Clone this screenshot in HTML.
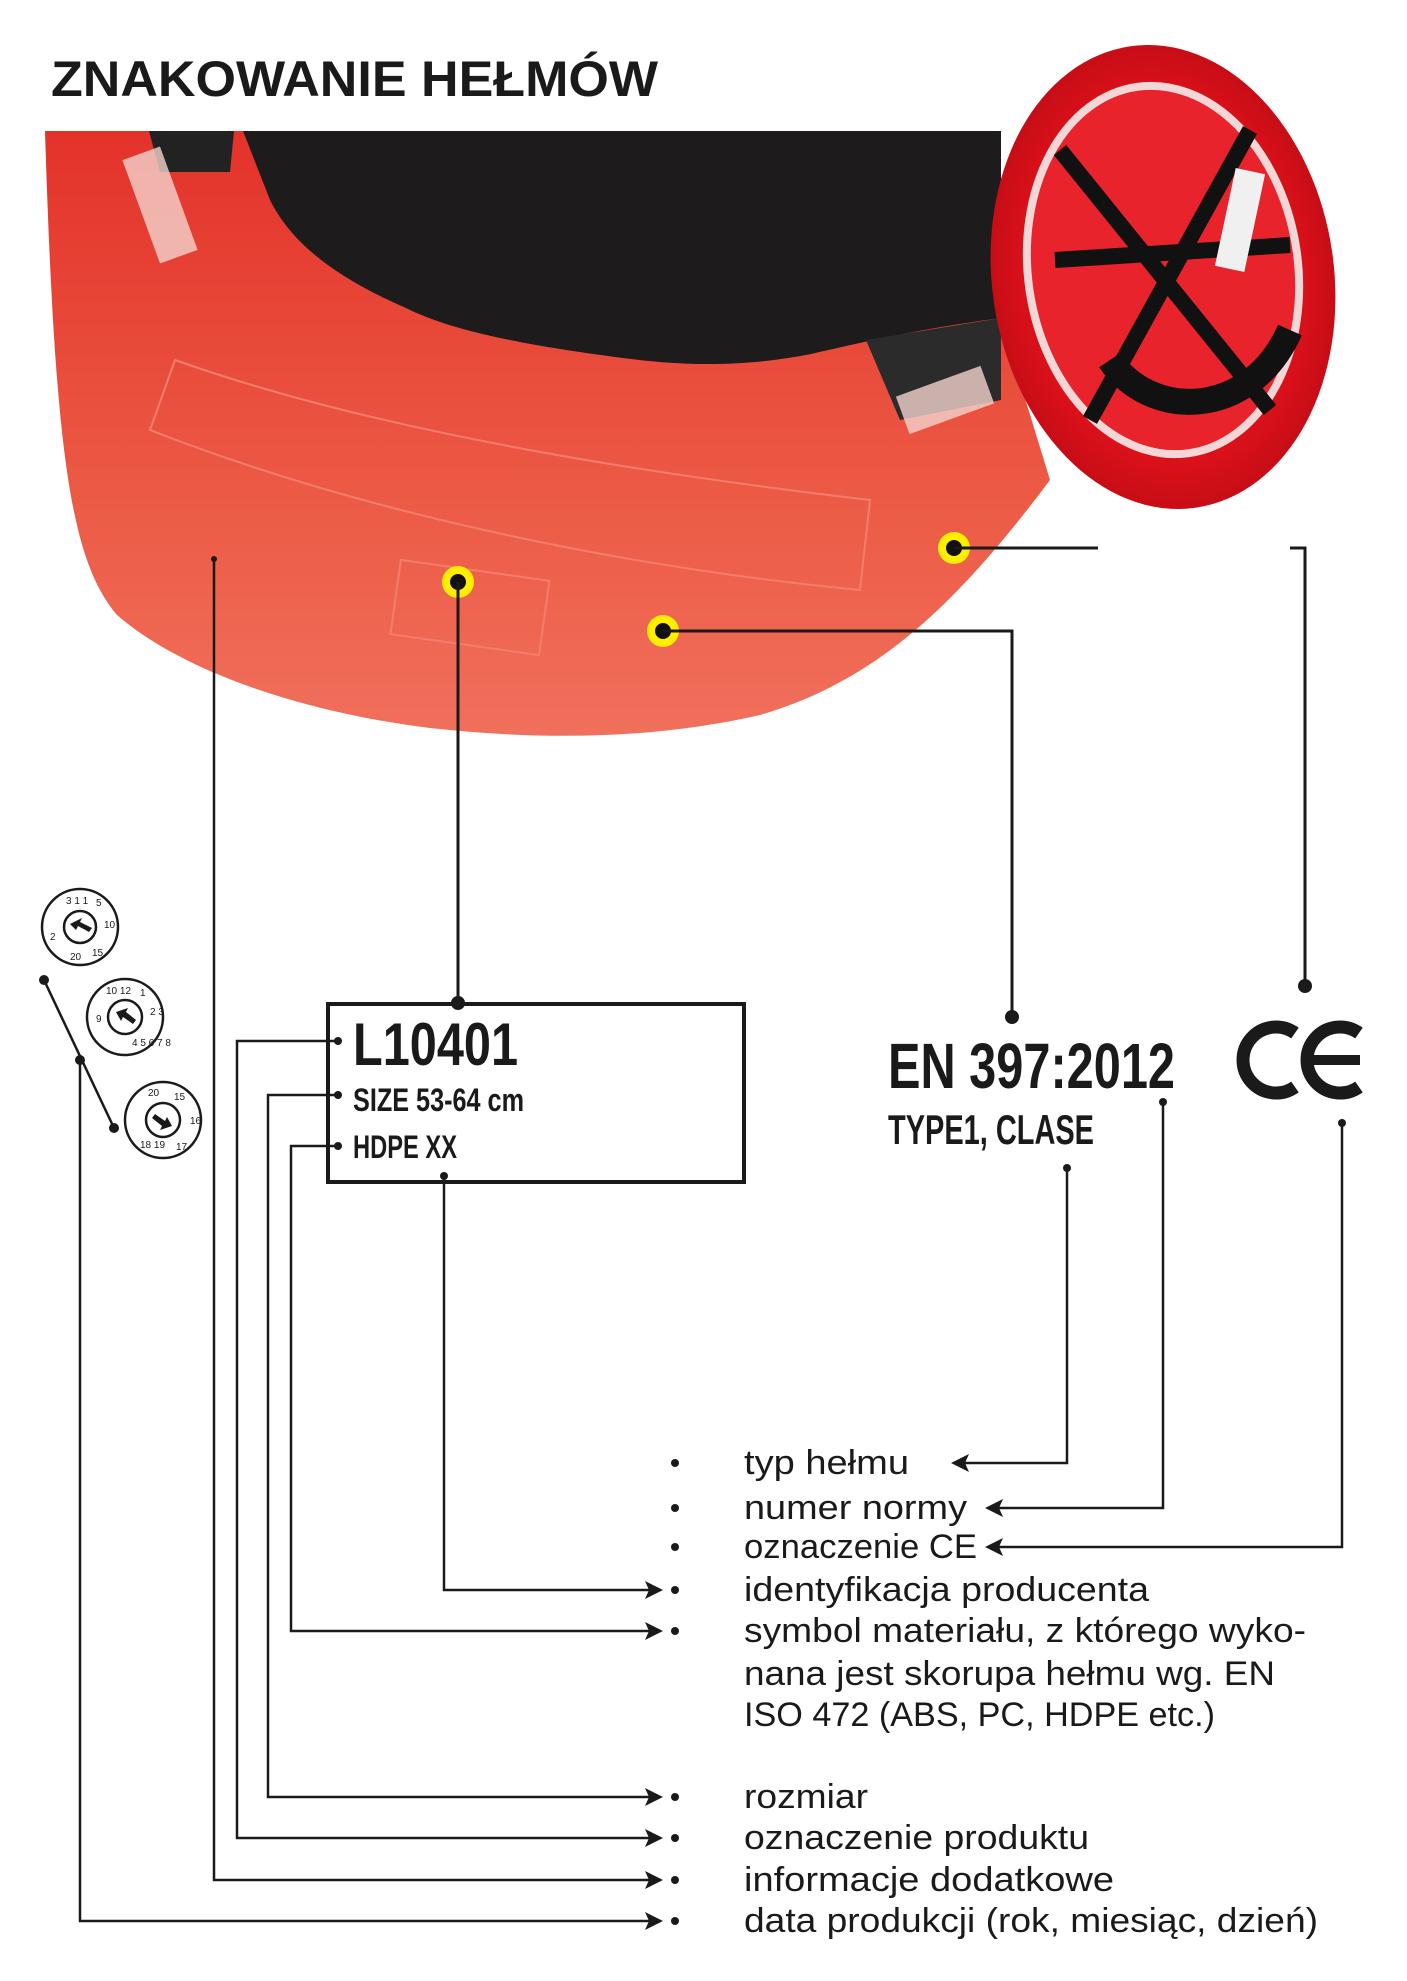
<!DOCTYPE html>
<html><head><meta charset="utf-8"><style>
html,body{margin:0;padding:0;background:#fff}
svg{display:block}
</style></head><body>
<svg width="1407" height="1981" viewBox="0 0 1407 1981" xmlns="http://www.w3.org/2000/svg" font-family="Liberation Sans, sans-serif">
<defs>
<linearGradient id="rg" x1="0" y1="0" x2="0" y2="1">
<stop offset="0" stop-color="#e3322a"/><stop offset="0.6" stop-color="#ec5a45"/><stop offset="1" stop-color="#f0705c"/>
</linearGradient>
<radialGradient id="hg" cx="0.5" cy="0.5" r="0.5">
<stop offset="0.7" stop-color="#e4121c"/><stop offset="1" stop-color="#c70d16"/>
</radialGradient>
</defs>
<text x="51" y="96" font-size="50" font-weight="bold" fill="#1a1a1a" textLength="607" lengthAdjust="spacingAndGlyphs">ZNAKOWANIE HEŁMÓW</text>

<!-- main helmet photo -->
<path d="M45,131 L1001,131 L1001,320 L1050,480 C960,600 880,680 760,715 C650,740 540,740 430,728 C300,712 180,670 117,615 C70,560 55,450 45,131 Z" fill="url(#rg)"/>
<path d="M243,131 L1001,131 L1001,318 C950,325 900,333 811,354 C740,368 680,365 631,359 C520,345 450,330 406,308 C330,275 290,240 270,200 Z" fill="#1d1b1b"/>
<path d="M866,340 L1001,318 L1001,400 L900,420 Z" fill="#2b2b2b"/>
<path d="M149,131 L234,131 L230,172 L160,172 Z" fill="#222"/>
<rect x="140" y="150" width="40" height="110" fill="#f3d3cc" opacity="0.8" transform="rotate(-20 160 205)"/>
<rect x="900" y="380" width="90" height="40" fill="#f3d3cc" opacity="0.8" transform="rotate(-20 945 400)"/>
<path d="M175,360 C400,440 700,480 870,500 L860,590 C650,570 380,520 150,430 Z" fill="none" stroke="#f27d6b" stroke-width="2"/>
<rect x="395" y="570" width="150" height="75" fill="none" stroke="#f27d6b" stroke-width="2" transform="rotate(8 470 607)"/>

<!-- small helmet -->
<ellipse cx="1163" cy="277" rx="171" ry="233" fill="url(#hg)" transform="rotate(-8 1163 277)"/>
<ellipse cx="1163" cy="270" rx="135" ry="185" fill="#e8232b" stroke="#f3d7d7" stroke-width="8" transform="rotate(-8 1163 270)"/>
<path d="M1060,150 L1270,410 M1250,130 L1090,420 M1055,260 L1290,245" stroke="#111" stroke-width="16" fill="none"/>
<path d="M1110,360 C1150,420 1250,420 1290,330" stroke="#111" stroke-width="26" fill="none"/>
<rect x="1225" y="170" width="30" height="100" fill="#f0f0f0" transform="rotate(12 1240 220)"/>

<!-- yellow points -->
<g fill="#ffee00"><circle cx="458" cy="582" r="16"/><circle cx="663" cy="631" r="16"/><circle cx="954" cy="548" r="16"/></g>
<g fill="#111"><circle cx="458" cy="582" r="8"/><circle cx="663" cy="631" r="8"/><circle cx="954" cy="548" r="8"/></g>

<g stroke="#1a1a1a" stroke-width="3" fill="none">
<path d="M458,582 L458,1003"/>
<path d="M663,631 L1012,631 L1012,1017"/>
<path d="M954,548 L1098,548"/>
<path d="M1290,548 L1305,548 L1305,986"/>
</g>
<g fill="#1a1a1a">
<circle cx="458" cy="1003" r="7"/><circle cx="1012" cy="1017" r="7"/><circle cx="1305" cy="986" r="7"/>
<circle cx="214" cy="559" r="3"/>
</g>

<!-- box -->
<rect x="328" y="1004" width="416" height="178" fill="none" stroke="#1a1a1a" stroke-width="4"/>
<g font-weight="bold" fill="#1a1a1a">
<text x="353" y="1065" font-size="60" textLength="165" lengthAdjust="spacingAndGlyphs">L10401</text>
<text x="353" y="1111" font-size="32" textLength="171" lengthAdjust="spacingAndGlyphs">SIZE 53-64 cm</text>
<text x="353" y="1158" font-size="32" textLength="104" lengthAdjust="spacingAndGlyphs">HDPE XX</text>
<text x="888" y="1088" font-size="64" textLength="287" lengthAdjust="spacingAndGlyphs">EN 397:2012</text>
<text x="888" y="1144" font-size="42" textLength="206" lengthAdjust="spacingAndGlyphs">TYPE1, CLASE</text>
</g>
<!-- CE -->
<g fill="none" stroke="#1a1a1a" stroke-width="13">
<path d="M1295,1033 A33,33 0 1 0 1295,1087"/>
<path d="M1359,1033 A33,33 0 1 0 1359,1087"/>
</g>
<rect x="1310" y="1055" width="50" height="10" fill="#1a1a1a"/>

<!-- dials -->
<g fill="none" stroke="#1a1a1a" stroke-width="2.5">
<circle cx="80" cy="927" r="38"/><circle cx="80" cy="927" r="16"/>
<circle cx="125" cy="1017" r="38"/><circle cx="125" cy="1017" r="17"/>
<circle cx="163" cy="1120" r="38"/><circle cx="163" cy="1120" r="17"/>
</g>
<g fill="#1a1a1a" font-size="10">
<path d="M70,924 L82,918 L80,922 L92,928 L89,932 L78,926 L76,930 Z"/>
<path d="M116,1012 L128,1008 L126,1012 L136,1020 L133,1024 L123,1017 L121,1021 Z"/>
<path d="M172,1126 L160,1130 L162,1126 L152,1118 L155,1114 L165,1121 L167,1117 Z"/>
<text x="66" y="904">3 1 1</text><text x="96" y="906">5</text><text x="104" y="928">10</text><text x="92" y="956">15</text><text x="70" y="960">20</text><text x="50" y="940">2</text>
<text x="106" y="994">10 12</text><text x="140" y="996">1</text><text x="150" y="1015">2 3</text><text x="132" y="1046">4 5 6 7 8</text><text x="96" y="1022">9</text>
<text x="148" y="1096">20</text><text x="174" y="1100">15</text><text x="190" y="1124">16</text><text x="176" y="1150">17</text><text x="140" y="1148">18 19</text>
</g>
<g stroke="#1a1a1a" stroke-width="2.5" fill="none">
<path d="M44,980 L114,1128"/>
</g>
<g fill="#1a1a1a"><circle cx="44" cy="980" r="5"/><circle cx="114" cy="1128" r="5"/><circle cx="80" cy="1060" r="5"/>
<circle cx="338" cy="1041" r="4"/><circle cx="338" cy="1095" r="4"/><circle cx="338" cy="1146" r="4"/><circle cx="444" cy="1176" r="4"/>
<circle cx="1163" cy="1102" r="4"/><circle cx="1067" cy="1168" r="4"/><circle cx="1342" cy="1123" r="4"/></g>

<!-- connectors -->
<g stroke="#1a1a1a" stroke-width="2.5" fill="none">
<path d="M80,1060 L80,1921 L650,1921"/>
<path d="M214,559 L214,1880 L650,1880"/>
<path d="M338,1041 L237,1041 L237,1838 L650,1838"/>
<path d="M338,1095 L268,1095 L268,1797 L650,1797"/>
<path d="M338,1146 L291,1146 L291,1631 L650,1631"/>
<path d="M444,1176 L444,1590 L650,1590"/>
<path d="M1067,1168 L1067,1463 L965,1463"/>
<path d="M1163,1102 L1163,1508 L999,1508"/>
<path d="M1342,1123 L1342,1547 L999,1547"/>
</g>
<g fill="#1a1a1a">
<path d="M663,1921 l-18,-9 l4,9 l-4,9 Z"/>
<path d="M663,1880 l-18,-9 l4,9 l-4,9 Z"/>
<path d="M663,1838 l-18,-9 l4,9 l-4,9 Z"/>
<path d="M663,1797 l-18,-9 l4,9 l-4,9 Z"/>
<path d="M663,1631 l-18,-9 l4,9 l-4,9 Z"/>
<path d="M663,1590 l-18,-9 l4,9 l-4,9 Z"/>
<path d="M951,1463 l18,-9 l-4,9 l4,9 Z"/>
<path d="M985,1508 l18,-9 l-4,9 l4,9 Z"/>
<path d="M985,1547 l18,-9 l-4,9 l4,9 Z"/>
</g>

<!-- list -->
<g fill="#1a1a1a" font-size="34">
<g><circle cx="675" cy="1463" r="4"/><circle cx="675" cy="1508" r="4"/><circle cx="675" cy="1547" r="4"/><circle cx="675" cy="1590" r="4"/><circle cx="675" cy="1631" r="4"/><circle cx="675" cy="1797" r="4"/><circle cx="675" cy="1838" r="4"/><circle cx="675" cy="1880" r="4"/><circle cx="675" cy="1921" r="4"/></g>
<text x="744" y="1474" textLength="165" lengthAdjust="spacingAndGlyphs">typ hełmu</text>
<text x="744" y="1519" textLength="223" lengthAdjust="spacingAndGlyphs">numer normy</text>
<text x="744" y="1558" textLength="233" lengthAdjust="spacingAndGlyphs">oznaczenie CE</text>
<text x="744" y="1601" textLength="405" lengthAdjust="spacingAndGlyphs">identyfikacja producenta</text>
<text x="744" y="1642" textLength="562" lengthAdjust="spacingAndGlyphs">symbol materiału, z którego wyko-</text>
<text x="744" y="1685" textLength="531" lengthAdjust="spacingAndGlyphs">nana jest skorupa hełmu wg. EN</text>
<text x="744" y="1726" textLength="471" lengthAdjust="spacingAndGlyphs">ISO 472 (ABS, PC, HDPE etc.)</text>
<text x="744" y="1808" textLength="124" lengthAdjust="spacingAndGlyphs">rozmiar</text>
<text x="744" y="1849" textLength="345" lengthAdjust="spacingAndGlyphs">oznaczenie produktu</text>
<text x="744" y="1891" textLength="370" lengthAdjust="spacingAndGlyphs">informacje dodatkowe</text>
<text x="744" y="1932" textLength="574" lengthAdjust="spacingAndGlyphs">data produkcji (rok, miesiąc, dzień)</text>
</g>
</svg>
</body></html>
